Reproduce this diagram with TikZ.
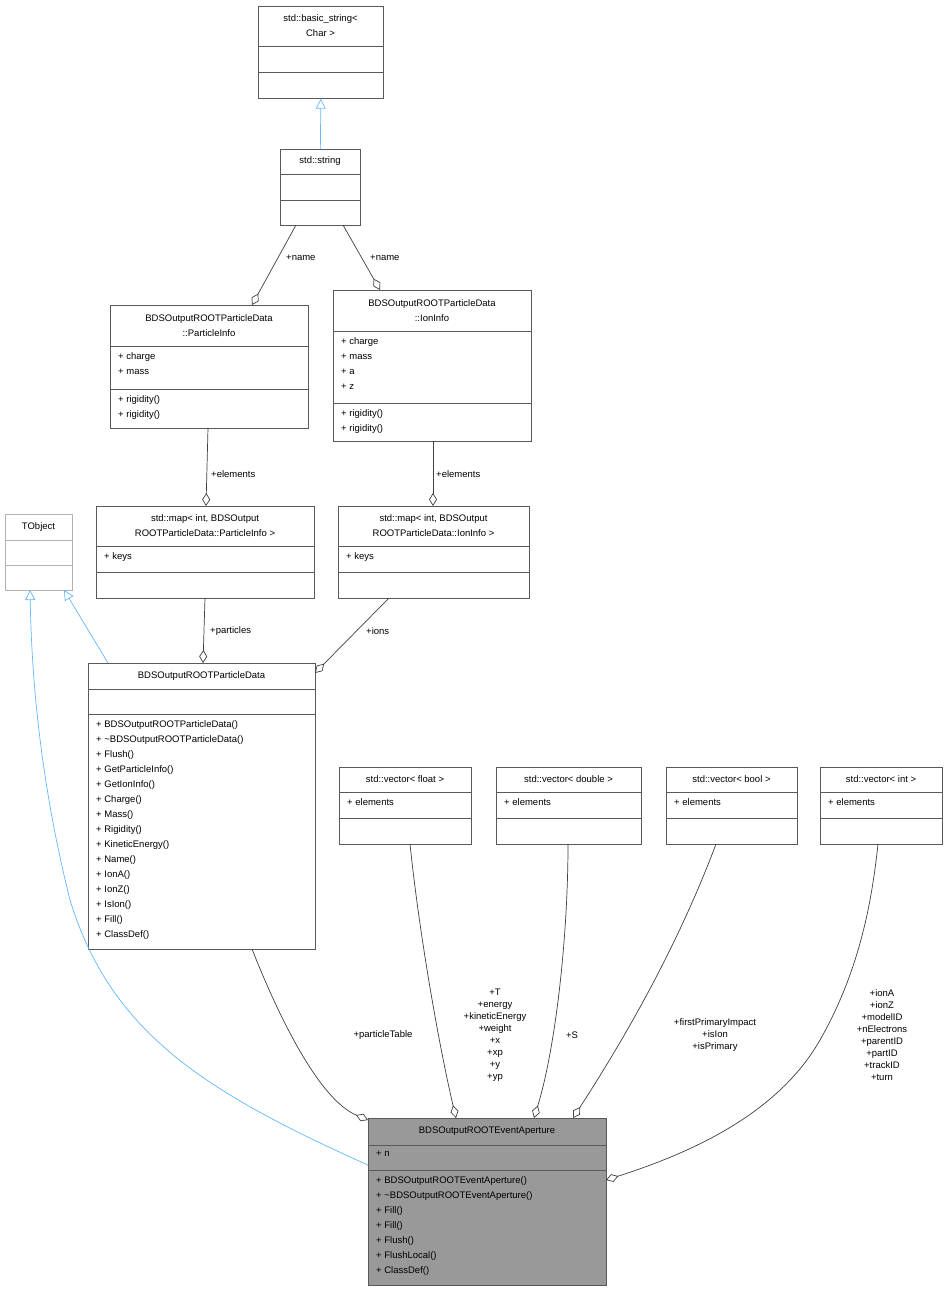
\documentclass[tikz,border=0pt]{standalone}
\usepackage{fontspec}
\setmainfont{Liberation Sans}
\usetikzlibrary{arrows.meta}
\definecolor{inh}{HTML}{63B8FF}
\tikzset{
  box/.style={draw=black!65,line width=0.7pt},
  clsx/.style={},
  txt/.style={inner sep=0pt,font=\fontsize{9.5}{15}\selectfont,align=left},
  ttl/.style={inner sep=0pt,font=\fontsize{9.5}{15}\selectfont,align=center},
  agg/.style={draw=black!75,line width=0.7pt,{Diamond[open,length=13pt,width=8pt]}-},
  inhe/.style={draw=inh,line width=0.7pt,-{Triangle[open,length=10pt,width=10pt]}},
  lbl/.style={inner sep=0pt,font=\fontsize{9.5}{12}\selectfont,align=center},
}
% name, x1,y1,x2,y2, sep1, sep2, title, attrs; methods via \meth
\newcommand{\cls}[9]{%
  \node[box,clsx,anchor=north west,minimum width=#4pt-#2pt,minimum height=#5pt-#3pt,inner sep=0pt] (#1) at (#2,#3) {};
  \draw[box,clsx] (#2,#6) -- (#4,#6);
  \draw[box,clsx] (#2,#7) -- (#4,#7);
  \node[ttl] at ({(#2+#4)/2},{(#3+#6)/2}) {#8};
  \node[txt,anchor=north west] at (#2+8,#6+6) {#9};
  \def\mx{#2}\def\my{#7}%
}
\newcommand{\meth}[1]{\node[txt,anchor=north west] at (\mx+8,\my+6) {#1};}
\begin{document}
\begin{tikzpicture}[x=1pt,y=-1pt]
\useasboundingbox (0,0) rectangle (948,1292);
\fill[white] (0,0) rectangle (948,1292);
\cls{bs}{258}{6}{383}{98}{46}{72}{std::basic\_string\textless\\Char \textgreater}{}
\cls{str}{280}{149}{360}{225}{174}{200}{std::string}{}
\cls{pi}{110}{305}{308}{428}{346}{389}{BDSOutputROOTParticleData\\::ParticleInfo}{+ charge\\+ mass}
\meth{+ rigidity()\\+ rigidity()}
\cls{ii}{333}{290}{531}{441}{331}{403}{BDSOutputROOTParticleData\\::IonInfo}{+ charge\\+ mass\\+ a\\+ z}
\meth{+ rigidity()\\+ rigidity()}
\cls{mpi}{96}{506}{314}{598}{546}{572}{std::map\textless{} int, BDSOutput\\ROOTParticleData::ParticleInfo \textgreater}{+ keys}
\cls{mii}{338}{506}{529}{598}{546}{572}{std::map\textless{} int, BDSOutput\\ROOTParticleData::IonInfo \textgreater}{+ keys}
\begin{scope}[clsx/.style={draw=black!30}]
\cls{tob}{5}{514}{72}{590}{540}{565}{TObject}{}
\end{scope}
\cls{pd}{88}{663}{315}{949}{689}{714}{BDSOutputROOTParticleData}{}
\meth{+ BDSOutputROOTParticleData()\\+ \textasciitilde BDSOutputROOTParticleData()\\+ Flush()\\+ GetParticleInfo()\\+ GetIonInfo()\\+ Charge()\\+ Mass()\\+ Rigidity()\\+ KineticEnergy()\\+ Name()\\+ IonA()\\+ IonZ()\\+ IsIon()\\+ Fill()\\+ ClassDef()}
\cls{vf}{339}{767}{471}{844}{792}{818}{std::vector\textless{} float \textgreater}{+ elements}
\cls{vd}{496}{767}{641}{844}{792}{818}{std::vector\textless{} double \textgreater}{+ elements}
\cls{vb}{666}{767}{797}{844}{792}{818}{std::vector\textless{} bool \textgreater}{+ elements}
\cls{vi}{820}{767}{942}{844}{792}{818}{std::vector\textless{} int \textgreater}{+ elements}
\fill[black!40] (368,1118) rectangle (606,1285);
\cls{ea}{368}{1118}{606}{1285}{1145}{1170}{BDSOutputROOTEventAperture}{+ n}
\meth{+ BDSOutputROOTEventAperture()\\+ \textasciitilde BDSOutputROOTEventAperture()\\+ Fill()\\+ Fill()\\+ Flush()\\+ FlushLocal()\\+ ClassDef()}
% inheritance
\draw[inhe] (str.north) -- (bs.south);
\draw[inhe] (108,663) -- (64,590);
\draw[inhe] (368,1165) .. controls (200,1090) and (110,1030) .. (70,900) .. controls (45,800) and (32,700) .. (30,590);
% aggregation
\draw[agg] (252,305) -- (296,225);
\draw[agg] (380,290) -- (343,225);
\draw[agg] (206,506) -- (208,428);
\draw[agg] (433,506) -- (433,441);
\draw[agg] (203,663) -- (205,598);
\draw[agg] (315,673) -- (389,598);
\draw[agg] (368,1120) .. controls (320,1100) and (280,1020) .. (252,949);
\draw[agg] (456,1118) .. controls (440,1050) and (420,940) .. (410,844);
\draw[agg] (534,1118) .. controls (555,1050) and (568,940) .. (568,844);
\draw[agg] (573,1118) .. controls (630,1030) and (680,940) .. (716,844);
\draw[agg] (606,1180) .. controls (700,1150) and (780,1110) .. (820,1040) .. controls (860,970) and (872,900) .. (878,844);
% labels
\node[lbl,anchor=west] at (286,258) {+name};
\node[lbl,anchor=west] at (370,258) {+name};
\node[lbl,anchor=west] at (211,474) {+elements};
\node[lbl,anchor=west] at (436,474) {+elements};
\node[lbl,anchor=west] at (210,631) {+particles};
\node[lbl,anchor=west] at (366,631) {+ions};
\node[lbl] at (383,1035) {+particleTable};
\node[lbl] at (495,1035) {+T\\+energy\\+kineticEnergy\\+weight\\+x\\+xp\\+y\\+yp};
\node[lbl] at (572,1035) {+S};
\node[lbl] at (715,1035) {+firstPrimaryImpact\\+isIon\\+isPrimary};
\node[lbl] at (882,1035) {+ionA\\+ionZ\\+modelID\\+nElectrons\\+parentID\\+partID\\+trackID\\+turn};
\end{tikzpicture}
\end{document}
